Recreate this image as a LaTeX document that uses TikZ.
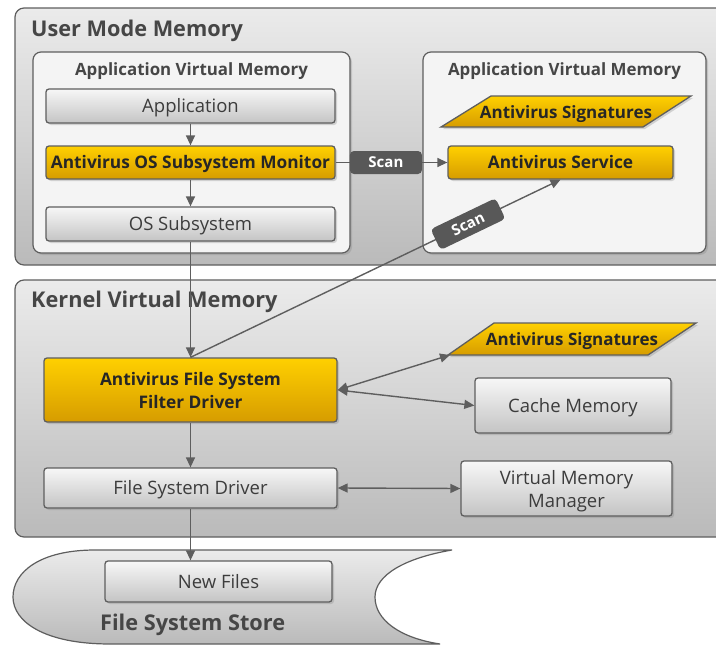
\documentclass[tikz,border=0pt]{standalone}
\usepackage{fontspec}
\setmainfont{Open Sans}
\usetikzlibrary{arrows.meta,shadows,calc}
\definecolor{txt}{HTML}{3C3C3C}
\definecolor{ttl}{HTML}{464646}
\definecolor{edge}{HTML}{5E5E5E}
\definecolor{regT}{HTML}{EBEBEB}
\definecolor{regB}{HTML}{BABABA}
\definecolor{inner}{HTML}{F4F4F4}
\definecolor{boxT}{HTML}{F7F7F7}
\definecolor{boxB}{HTML}{C4C4C4}
\definecolor{ylwT}{HTML}{FFD000}
\definecolor{ylwB}{HTML}{D69C00}
\definecolor{scanfill}{HTML}{585858}
\begin{document}
\begin{tikzpicture}[x=1pt,y=-1pt,
  region/.style={draw=edge, line width=1.2pt, rounded corners=9pt, top color=regT, bottom color=regB},
  vmbox/.style={draw=edge, line width=1.2pt, rounded corners=8pt, fill=inner,
     drop shadow={shadow xshift=2pt,shadow yshift=-2pt,opacity=.3}},
  bigttl/.style={font=\fontsize{21.7}{24}\selectfont\bfseries, text=ttl, anchor=base west, inner sep=0pt},
  vmttl/.style={font=\fontsize{16.9}{19}\selectfont\bfseries, text=ttl, anchor=base, inner sep=0pt},
  graybox/.style={draw=edge, line width=1.3pt, rounded corners=3pt, top color=boxT, bottom color=boxB,
     text=txt, font=\fontsize{18.5}{23}\selectfont, align=center, inner sep=0pt, text depth=0pt,
     drop shadow={shadow xshift=2pt,shadow yshift=-2pt,opacity=.3}},
  ylwbox/.style={draw=edge, line width=1.3pt, rounded corners=3pt, top color=ylwT, bottom color=ylwB,
     text=black!85, font=\fontsize{17.3}{23}\selectfont\bfseries, align=center, inner sep=0pt, text depth=0pt,
     drop shadow={shadow xshift=2pt,shadow yshift=-2pt,opacity=.3}},
  grayone/.style={graybox, text height=13.2pt},
  ylwone/.style={ylwbox, text height=12.4pt},
  sigshape/.style={draw=edge, line width=1.3pt, top color=ylwT, bottom color=ylwB,
     drop shadow={shadow xshift=2pt,shadow yshift=-2pt,opacity=.3}},
  sigtext/.style={text=black!85, font=\fontsize{17}{20}\selectfont\bfseries, inner sep=0pt,
     text height=12.1pt, text depth=0pt},
  scanlbl/.style={fill=scanfill, rounded corners=4pt, text=white, font=\fontsize{15}{18}\selectfont\bfseries,
     minimum width=72pt, minimum height=23pt, inner sep=0pt, text height=10.7pt, text depth=0pt},
  arr/.style={draw=edge, line width=1.4pt, -{Triangle[length=10pt,width=9pt]}},
  darr/.style={draw=edge, line width=1.4pt, {Triangle[length=10pt,width=9pt]}-{Triangle[length=10pt,width=9pt]}}
]
\useasboundingbox (0,0) rectangle (716,645);
\clip (0,0) rectangle (716,645);
\fill[white] (0,0) rectangle (716,645);

% User mode region
\draw[region] (15,8) rectangle (745,265);
\node[bigttl] (umm) at (31,36) {User Mode Memory};

% left app VM
\node[vmbox, minimum width=317pt, minimum height=201pt] (appL) at (191.5,152.5) {};
\node[vmttl] (appLt) at (191.5,75) {Application Virtual Memory};
% right app VM
\node[vmbox, minimum width=283pt, minimum height=201pt] (appR) at (564.5,152.5) {};
\node[vmttl] (appRt) at (564.5,75) {Application Virtual Memory};

\node[grayone, minimum width=289pt, minimum height=34pt] (application) at (190.5,106) {Application};
\node[ylwone, minimum width=289pt, minimum height=33pt] (monitor) at (190.5,162.5) {Antivirus OS Subsystem Monitor};
\node[grayone, minimum width=289pt, minimum height=34pt] (ossub) at (190.5,224) {OS Subsystem};

\path[sigshape] (491,96) -- (691,96) -- (643,127) -- (441,127) -- cycle;
\node[sigtext] (sigU) at (566,112) {Antivirus Signatures};
\node[ylwone, minimum width=225pt, minimum height=33pt] (service) at (560.5,162.5) {Antivirus Service};

% Kernel region
\draw[region] (15,280) rectangle (745,537);
\node[bigttl] (kvm) at (31,307) {Kernel Virtual Memory};

\node[ylwbox, minimum width=293pt, minimum height=64pt] (filter) at (190.5,390) {Antivirus File System\\Filter Driver};
\node[grayone, minimum width=293pt, minimum height=40pt] (fsd) at (190.5,488) {File System Driver};

\path[sigshape] (494,323) -- (696,323) -- (648,355) -- (448,355) -- cycle;
\coordinate (sigKc) at (450,355);
\node[sigtext] (sigK) at (572,339) {Antivirus Signatures};
\node[grayone, minimum width=196pt, minimum height=55pt] (cache) at (573,405.5) {Cache Memory};
\node[graybox, minimum width=211pt, minimum height=55pt] (vmm) at (566.5,488.5) {Virtual Memory\\Manager};

% File system store
\path[draw=edge, line width=1.2pt, top color=regT, bottom color=regB]
  (95,550) -- (452,550)
  .. controls (405,558) and (375,575) .. (375,597)
  .. controls (375,620) and (400,638) .. (440,644)
  -- (110,644)
  .. controls (45,644) and (13,622) .. (13,597)
  .. controls (13,572) and (40,550) .. (95,550) -- cycle;
\node[grayone, minimum width=227pt, minimum height=41pt] (newfiles) at (218.5,581.5) {New Files};
\node[bigttl] (fss) at (100,630) {File System Store};

% connectors
\draw[arr] (application.south) -- (monitor.north);
\draw[arr] (monitor.south) -- (ossub.north);
\draw[arr] (ossub.south) -- (filter.north);
\draw[arr] (filter.south) -- (fsd.north);
\draw[arr] (fsd.south) -- (fsd.south |- newfiles.north);
\draw[arr] (monitor.east) -- node[scanlbl, pos=0.45] (scan1) {Scan} (service.west);
\draw[arr] (filter.north) -- node[scanlbl, sloped, pos=0.75] (scan2) {Scan} (service.south);
\draw[darr] (filter.east) -- (sigKc);
\draw[darr] (filter.east) -- (cache.west);
\draw[darr] (fsd.east) -- (vmm.west);
\end{tikzpicture}
\end{document}
